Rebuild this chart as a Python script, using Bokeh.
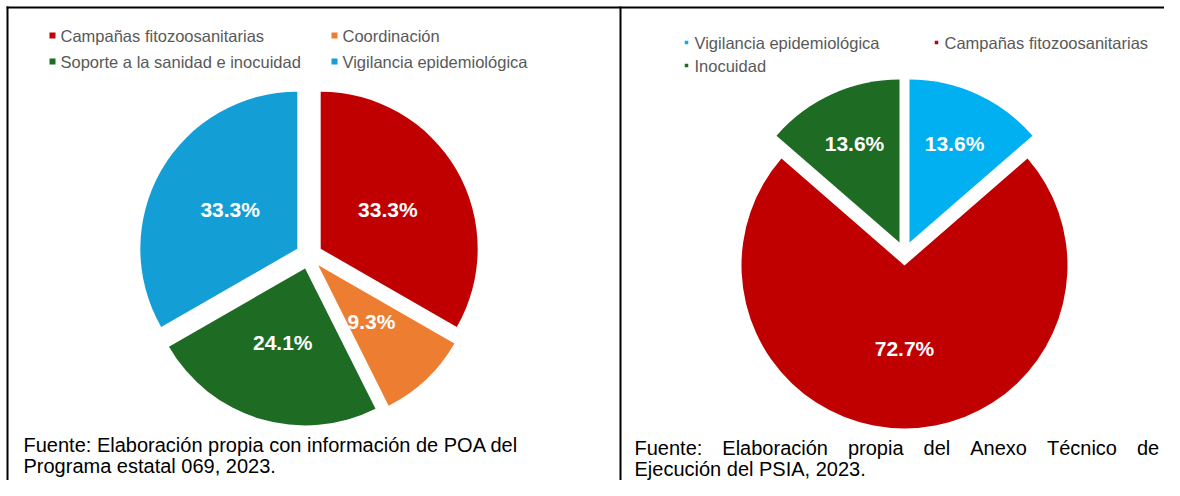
import numpy as np
from bokeh.plotting import figure
from bokeh.models import Range1d
from bokeh.embed import file_html
from bokeh.resources import INLINE
from bokeh.core.properties import value

# ---------------- data ----------------
left_categories = ["Campañas fitozoosanitarias", "Coordinación",
                   "Soporte a la sanidad e inocuidad", "Vigilancia epidemiológica"]
left_values = [33.3, 9.3, 24.1, 33.3]
left_colors = ["#C00000", "#ED7D31", "#1E6B24", "#139FD6"]

right_categories = ["Vigilancia epidemiológica", "Campañas fitozoosanitarias", "Inocuidad"]
right_values = [13.6, 72.7, 13.6]
right_colors = ["#00B0F0", "#C00000", "#1E6B24"]

left_source_lines = ["Fuente: Elaboración propia con información de POA del",
                     "Programa estatal 069, 2023."]
right_source_words = ["Fuente:", "Elaboración", "propia", "del", "Anexo", "Técnico", "de"]
right_source_line2 = "Ejecución del PSIA, 2023."

# ---------------- layout ----------------
W, H = 1164, 480
FONT = value("Liberation Sans")


def X(px):
    return np.asarray(px, dtype=float)


def Y(py):
    return H - np.asarray(py, dtype=float)


p = figure(width=W, height=H, output_backend="svg", toolbar_location=None,
           x_range=Range1d(0, W), y_range=Range1d(0, H),
           x_axis_location=None, y_axis_location=None, min_border=0)
p.grid.visible = False
p.outline_line_color = None
p.background_fill_color = "white"

# frame lines
p.segment(x0=X([6, 7, 620]), y0=Y([7, 6, 6]), x1=X([1164, 7, 620]), y1=Y([7, 480, 480]),
          line_color="black", line_width=2)


def pie(values, colors, cx, cy, r, d, label_frac):
    v = np.array(values, dtype=float)
    frac = v / v.sum()
    cum = np.concatenate([[0.0], np.cumsum(frac)])
    start = np.pi / 2 - 2 * np.pi * cum[:-1]
    end = np.pi / 2 - 2 * np.pi * cum[1:]
    mid = (start + end) / 2
    xs = X(cx) + d * np.cos(mid)
    ys = Y(cy) + d * np.sin(mid)
    p.wedge(x=xs, y=ys, radius=r, start_angle=start, end_angle=end,
            direction="clock", fill_color=colors, line_color=None)
    lr = r * np.asarray(label_frac, dtype=float)
    p.text(x=X(cx) + lr * np.cos(mid), y=Y(cy) + lr * np.sin(mid),
           text=[f"{x:.1f}%" for x in values], text_color="white",
           text_font=FONT, text_font_style="bold", text_font_size="21px",
           text_align="center", text_baseline="middle")


def legend(cats, colors, col_x, row_y, marker_size, font_size):
    n_cols = len(col_x)
    xs, ys = [], []
    for i in range(len(cats)):
        xs.append(col_x[i % n_cols])
        ys.append(row_y[i // n_cols])
    xs, ys = X(xs), Y(ys)
    p.rect(x=xs - 8, y=ys, width=marker_size, height=marker_size,
           fill_color=colors, line_color=None)
    p.text(x=xs, y=ys, text=cats, text_color="#595959", text_font=FONT,
           text_font_size=font_size, text_align="left", text_baseline="middle")


# left chart
pie(left_values, left_colors, 308.5, 255, 157, 13.5, 0.58)
legend(left_categories, left_colors, [60, 342], [35, 61], 6, "16.5px")
p.text(x=X([23, 23]), y=Y([444, 465]), text=left_source_lines, text_color="black",
       text_font=FONT, text_font_size="20px", text_align="left", text_baseline="middle")

# right chart
right_label_frac = [0.74, 0.58, 0.74]
pie(right_values, right_colors, 904, 253, 163, 12, right_label_frac)
legend(right_categories, right_colors, [694, 944], [42, 65], 3.5, "16.5px")
gap = "\u2003"
p.text(x=X([634, 634]), y=Y([447, 468]), text=[gap.join(right_source_words), right_source_line2],
       text_color="black", text_font=FONT, text_font_size="20px",
       text_align="left", text_baseline="middle")

open("out.html", "w").write(file_html(p, INLINE))
